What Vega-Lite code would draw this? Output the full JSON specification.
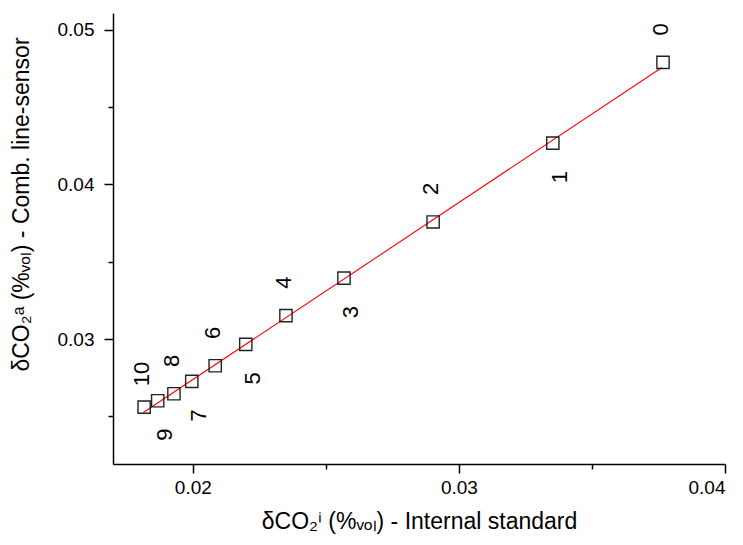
{
  "$schema": "https://vega.github.io/schema/vega-lite/v6.json",
  "autosize": {"type": "none"},
  "padding": {"left": 113, "top": 13, "right": 18, "bottom": 81},
  "width": 612,
  "height": 451,
  "background": "white",
  "config": {
    "view": {"stroke": null},
    "axis": {
      "grid": false,
      "domainColor": "black",
      "domainWidth": 1.5,
      "tickColor": "black",
      "tickWidth": 1.5,
      "labelFont": "Liberation Sans",
      "labelFontSize": 19,
      "labelColor": "black",
      "titleFont": "Liberation Sans",
      "titleFontSize": 23,
      "titleFontWeight": "normal",
      "titleColor": "black"
    }
  },
  "datasets": {
    "points": [
      {"id": 0, "label": "0", "xi": 0.03767, "ya": 0.04789},
      {"id": 1, "label": "1", "xi": 0.03353, "ya": 0.04267},
      {"id": 2, "label": "2", "xi": 0.02903, "ya": 0.03757},
      {"id": 3, "label": "3", "xi": 0.02568, "ya": 0.03394},
      {"id": 4, "label": "4", "xi": 0.0235, "ya": 0.03151},
      {"id": 5, "label": "5", "xi": 0.02199, "ya": 0.02965},
      {"id": 6, "label": "6", "xi": 0.02084, "ya": 0.02827},
      {"id": 7, "label": "7", "xi": 0.01996, "ya": 0.02726},
      {"id": 8, "label": "8", "xi": 0.01929, "ya": 0.02646},
      {"id": 9, "label": "9", "xi": 0.01868, "ya": 0.02601},
      {"id": 10, "label": "10", "xi": 0.01817, "ya": 0.0256}
    ],
    "fit": [
      {"xi": 0.01814, "ya": 0.02525},
      {"xi": 0.03763, "ya": 0.04756}
    ]
  },
  "layer": [
    {
      "data": {"name": "fit"},
      "mark": {"type": "line", "color": "#ff0000", "strokeWidth": 1.1},
      "encoding": {
        "x": {
          "field": "xi", "type": "quantitative",
          "scale": {"domain": [0.017, 0.04], "nice": false, "zero": false},
          "axis": {
            "title": "δCO₂ⁱ (%ᵥₒₗ) - Internal standard",
            "values": [0.02, 0.025, 0.03, 0.035, 0.04],
            "labelExpr": "round(datum.value*200)%2==0 ? format(datum.value,'.2f') : ''",
            "tickSize": {"condition": {"test": "round(datum.value*200)%2==0", "value": 9}, "value": 5},
            "labelPadding": 5,
            "titlePadding": 13
          }
        },
        "y": {
          "field": "ya", "type": "quantitative",
          "scale": {"domain": [0.02192, 0.05108], "nice": false, "zero": false},
          "axis": {
            "title": "δCO₂ᵃ (%ᵥₒₗ) - Comb. line-sensor",
            "values": [0.025, 0.03, 0.035, 0.04, 0.045, 0.05],
            "labelExpr": "round(datum.value*200)%2==0 ? format(datum.value,'.2f') : ''",
            "tickSize": {"condition": {"test": "round(datum.value*200)%2==0", "value": 9}, "value": 5},
            "labelPadding": 10,
            "titleY": 191,
            "titleX": -80
          }
        }
      }
    },
    {
      "data": {"name": "points"},
      "mark": {"type": "point", "shape": "square", "size": 150, "filled": false, "stroke": "#222222", "strokeWidth": 1.4, "opacity": 1},
      "encoding": {
        "x": {"field": "xi", "type": "quantitative"},
        "y": {"field": "ya", "type": "quantitative"}
      }
    },
    {
      "data": {"name": "points"},
      "transform": [{"filter": "datum.id % 2 == 0"}],
      "mark": {"type": "text", "angle": 270, "font": "Liberation Sans", "fontSize": 22, "color": "black", "align": "center", "baseline": "middle", "dx": 33, "dy": -2},
      "encoding": {
        "x": {"field": "xi", "type": "quantitative"},
        "y": {"field": "ya", "type": "quantitative"},
        "text": {"field": "label"}
      }
    },
    {
      "data": {"name": "points"},
      "transform": [{"filter": "datum.id % 2 == 1"}],
      "mark": {"type": "text", "angle": 270, "font": "Liberation Sans", "fontSize": 22, "color": "black", "align": "center", "baseline": "middle", "dx": -34, "dy": 7},
      "encoding": {
        "x": {"field": "xi", "type": "quantitative"},
        "y": {"field": "ya", "type": "quantitative"},
        "text": {"field": "label"}
      }
    }
  ]
}
